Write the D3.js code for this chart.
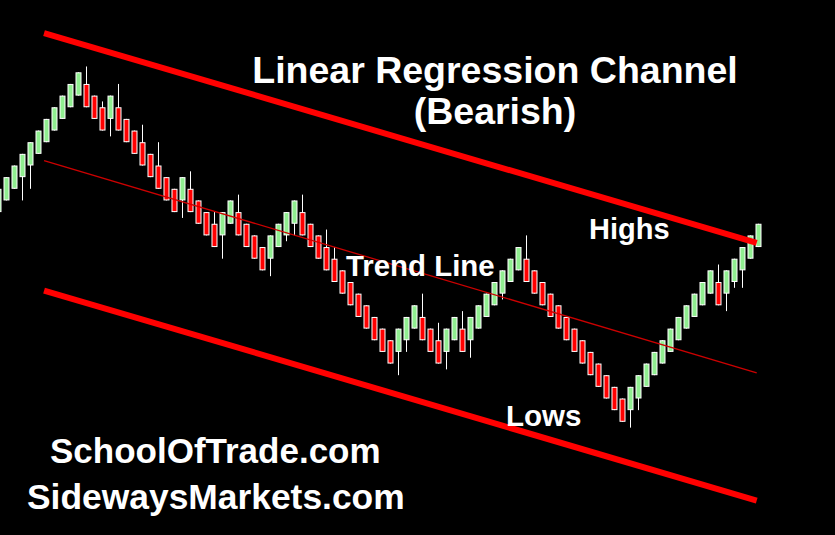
<!DOCTYPE html>
<html><head><meta charset="utf-8">
<script src="https://cdn.jsdelivr.net/npm/d3@7"></script>
<style>html,body{margin:0;padding:0;background:#000;}svg{display:block;}</style>
</head><body>
<svg id="chart" width="835" height="535"></svg>
<script>
// bar index runs from -1 to 94
const firstIndex = -1;
const openVals = [
  88,89,90,91,92,93,94,95,96,97,
  98,99,98,97,96,97,96,95,94,93,
  92,91,90,89,90,89,88,87,86,87,
  88,87,86,85,84,85,86,87,88,87,
  86,85,84,83,82,81,80,79,78,77,
  76,77,78,79,78,77,76,77,78,77,
  78,79,80,81,82,83,84,83,82,81,
  80,79,78,77,76,75,74,73,72,71,
  72,73,74,75,76,77,78,79,80,81,
  82,81,82,83,84,85];
const closeVals = [
  90,91,92,93,94,95,96,97,98,99,
  100,97,96,95,98,95,94,93,92,91,
  90,89,88,91,88,87,86,85,88,89,
  86,85,84,83,86,87,88,89,86,85,
  84,83,82,81,80,79,78,77,76,75,
  78,79,80,77,76,75,78,79,76,79,
  80,81,82,83,84,85,82,81,80,79,
  78,77,76,75,74,73,72,71,70,73,
  74,75,76,77,78,79,80,81,82,83,
  80,83,84,85,86,87];
const highVals = [
  90,91,92,93,94,95,96,97,98,99,
  100,100.5,98,97.5,98,99,96,95,95.5,93,
  94,91,90,91,91.5,89,88,88,88,89,
  89.5,87,86,85,86,87,88,89,89.5,87,
  86,86.5,85,83,82,81,80,79,78,77,
  78,79,80,81,78,78.5,78,79,79.5,79,
  80,81,82,83,84,85,86,83,82,81,
  80,79,78,77,76,75,74,73,72,73,
  74,75,76,77,78,79,80,81,82,83,
  83.5,83,84,85,86,87];
const lowVals = [
  88,89,90,89,90,93,94,95,96,97,
  98,97,96,95,94.5,95,94,93,92,91,
  90,89,88,87.5,88,87,86,85,84,87,
  86,85,84,83,82.5,85,85.5,86,86,85,
  84,83,82,81,80,79,78,77,76,75,
  74,76,78,77,76,75,74.5,77,76,75.5,
  78,79,80,80.5,82,83,82,81,80,79,
  78,77,76,75,74,73,72,71,70,69.5,
  71,73,74,75,76,77,78,79,80,81,
  80,79.5,81.5,81.5,84,85];

// regression channel end points (bar index, price)
const channelX = [4.72, 93.8];
const upperLine = [103.37, 85.35];
const middleLine = [92.41, 74.21];
const lowerLine = [81.27, 63.24];

const titleLines = ["Linear Regression Channel", "(Bearish)"];
const labels = [
  {text: "Highs"}, {text: "Trend Line"}, {text: "Lows"}
];
const footerLines = ["SchoolOfTrade.com", "SidewaysMarkets.com"];

const svg = d3.select("#chart");
svg.append("rect").attr("width", 835).attr("height", 535).attr("fill", "#000");

const x = d3.scaleLinear().domain([0, 94]).range([6.3, 758.3]);
const y = d3.scaleLinear().domain([100, 60]).range([72.3, 538.3]);

const bars = openVals.map((o, k) => ({
  i: k + firstIndex, o, c: closeVals[k], h: highVals[k], l: lowVals[k]
}));

const g = svg.append("g");
// wicks
g.selectAll("line.wick").data(bars).join("line")
  .attr("class", "wick")
  .attr("x1", d => Math.round(x(d.i)) + 0.5).attr("x2", d => Math.round(x(d.i)) + 0.5)
  .attr("y1", d => y(d.h)).attr("y2", d => y(d.l))
  .attr("stroke", "#fff").attr("stroke-width", 1);
// bodies
g.selectAll("rect.body").data(bars).join("rect")
  .attr("class", "body")
  .attr("x", d => Math.round(x(d.i)) - 2)
  .attr("width", 5)
  .attr("y", d => y(Math.max(d.o, d.c)) + 0.5)
  .attr("height", d => Math.abs(y(d.o) - y(d.c)) - 1)
  .attr("fill", d => d.c >= d.o ? "#90ee90" : "#ff0000")
  .attr("stroke", "#fff").attr("stroke-width", 1);

// channel lines
const chan = [
  {vals: upperLine, w: 6, col: "#ff0000"},
  {vals: middleLine, w: 1.3, col: "#cc0000"},
  {vals: lowerLine, w: 6, col: "#ff0000"}
];
const lineGen = d3.line().x(d => x(d[0])).y(d => y(d[1]));
svg.selectAll("path.chan").data(chan).join("path")
  .attr("class", "chan")
  .attr("d", d => lineGen(channelX.map((xx, j) => [xx, d.vals[j]])))
  .attr("fill", "none").attr("stroke", d => d.col).attr("stroke-width", d => d.w);

const font = "'Liberation Sans', Arial, sans-serif";
const txt = (s, tx, ty, size, anchor) => svg.append("text")
  .attr("x", tx).attr("y", ty).attr("text-anchor", anchor || "start")
  .attr("font-family", font).attr("font-weight", "bold")
  .attr("font-size", size).attr("fill", "#fff").text(s);

txt(titleLines[0], 495, 83, 37.5, "middle");
txt(titleLines[1], 495, 124, 37.5, "middle");
txt(labels[0].text, 589, 239, 29);
txt(labels[1].text, 346, 276, 29.4);
txt(labels[2].text, 506, 426, 29.5);
txt(footerLines[0], 50, 463, 35);
txt(footerLines[1], 27, 509, 35.4);
</script>
</body></html>
